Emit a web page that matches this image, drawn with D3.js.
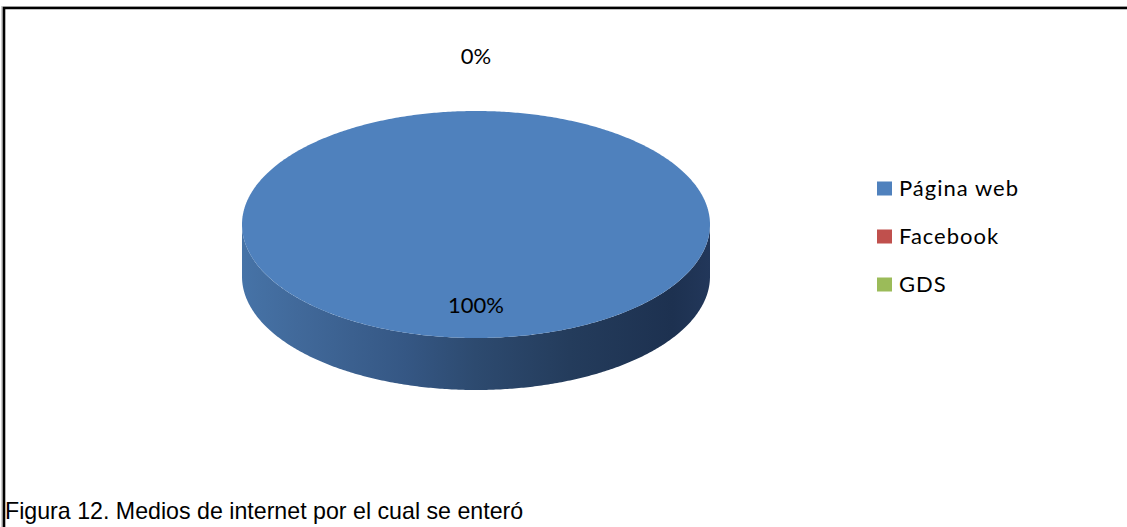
<!DOCTYPE html>
<html>
<head>
<meta charset="utf-8">
<script src="https://cdn.jsdelivr.net/npm/d3@7"></script>
<style>
  html, body { margin: 0; padding: 0; background: #fff; overflow: hidden; }
  svg { display: block; }
</style>
</head>
<body>
<svg id="chart" width="1127" height="527"></svg>
<script>
// Data: internet channels through which respondents heard about the service
const categories = ["Página web", "Facebook", "GDS"];
const shares = [100, 0, 0];
const sliceColors = ["#4f81bd", "#c0504d", "#9bbb59"];
const caption = "Figura 12. Medios de internet por el cual se enteró";

const width = 1127, height = 527;
const svg = d3.select("#chart");

// Chart frame (open on the right/bottom where the page crop cuts it)
svg.append("path")
  .attr("d", `M2,${height + 5} L2,7 L${width + 5},7`)
  .attr("fill", "none")
  .attr("stroke", "#cfcfcf")
  .attr("stroke-width", 2);
svg.append("path")
  .attr("d", `M4,${height + 5} L4,8 L${width + 5},8`)
  .attr("fill", "none")
  .attr("stroke", "#000")
  .attr("stroke-width", 2.6);

// 3D pie geometry
const cx = 476, cy = 224.5, rx = 234, ry = 113.5, depth = 52;
const color = d3.scaleOrdinal().domain(categories).range(sliceColors);
const pct = d3.scaleLinear().domain([0, d3.sum(shares)]).range([0, 100]);

const pie = d3.pie().sort(null).value(d => d.value);
const arcs = pie(categories.map((c, i) => ({ name: c, value: shares[i] })));

const px = a => cx + rx * Math.sin(a);
const py = (a, dz = 0) => cy - ry * Math.cos(a) + dz;
const line = d3.line();

function samples(a0, a1) {
  const n = Math.max(2, Math.ceil(Math.abs(a1 - a0) / 0.01));
  return d3.range(n + 1).map(i => a0 + (a1 - a0) * i / n);
}

// Side-wall shading: lit on the left, falling into shadow on the right
const defs = svg.append("defs");
const grad = defs.append("linearGradient")
  .attr("id", "sideShade")
  .attr("gradientUnits", "userSpaceOnUse")
  .attr("x1", cx - rx).attr("x2", cx + rx).attr("y1", 0).attr("y2", 0);
[[0, "#4673a7"], [0.12, "#41699a"], [0.35, "#355784"], [0.5, "#2d4a6f"],
 [0.7, "#243c5c"], [0.92, "#1d3150"], [1, "#22375a"]]
  .forEach(([o, c]) => grad.append("stop").attr("offset", o).attr("stop-color", c));

const pieG = svg.append("g");

// Front side walls (only the part of each slice facing the viewer)
arcs.filter(d => d.endAngle > d.startAngle).forEach(d => {
  const s = Math.max(d.startAngle, Math.PI / 2);
  const e = Math.min(d.endAngle, 3 * Math.PI / 2);
  if (e <= s) return;
  const ang = samples(s, e);
  const top = ang.map(a => [px(a), py(a)]);
  const bottom = ang.slice().reverse().map(a => [px(a), py(a, depth)]);
  pieG.append("path")
    .attr("d", line(top.concat(bottom)) + "Z")
    .attr("fill", d.index === 0 ? "url(#sideShade)" : d3.color(color(d.data.name)).darker(1));
});

// Top faces
arcs.filter(d => d.endAngle > d.startAngle).forEach(d => {
  const ang = samples(d.startAngle, d.endAngle);
  const pts = ang.map(a => [px(a), py(a)]);
  const full = (d.endAngle - d.startAngle) >= 2 * Math.PI - 1e-6;
  pieG.append("path")
    .attr("d", full ? line(pts) + "Z" : line([[cx, cy]].concat(pts)) + "Z")
    .attr("fill", color(d.data.name));
});

// Data labels
const labelFont = "Lato, 'Open Sans', sans-serif";
arcs.forEach(d => {
  const mid = (d.startAngle + d.endAngle) / 2;
  const inside = d.value > 0;
  const k = inside ? 0.71 : 1.48;
  if (!inside && d.index > 1) return; // zero slices share one label spot
  svg.append("text")
    .attr("x", cx + rx * k * Math.sin(mid) * (inside ? 1 : 0))
    .attr("y", cy - ry * k * Math.cos(mid))
    .attr("dy", "0.35em")
    .attr("text-anchor", "middle")
    .attr("font-family", labelFont)
    .attr("font-size", 22)
    .attr("fill", "#000")
    .text(Math.round(pct(d.value)) + "%");
});

// Legend
const legendY = d3.scalePoint().domain(categories).range([188.5, 284.5]);
const legend = svg.append("g");
categories.forEach(c => {
  legend.append("rect")
    .attr("x", 877).attr("y", legendY(c) - 7)
    .attr("width", 15).attr("height", 14)
    .attr("fill", color(c));
  legend.append("text")
    .attr("x", 899).attr("y", legendY(c))
    .attr("dy", "0.35em")
    .attr("font-family", labelFont)
    .attr("font-size", 22)
    .attr("letter-spacing", 1)
    .attr("fill", "#000")
    .text(c);
});

// Figure caption
svg.append("text")
  .attr("x", 5).attr("y", 519)
  .attr("font-family", "'Liberation Sans', Arial, sans-serif")
  .attr("font-size", 23.2)
  .attr("fill", "#000")
  .text(caption);
</script>
</body>
</html>
